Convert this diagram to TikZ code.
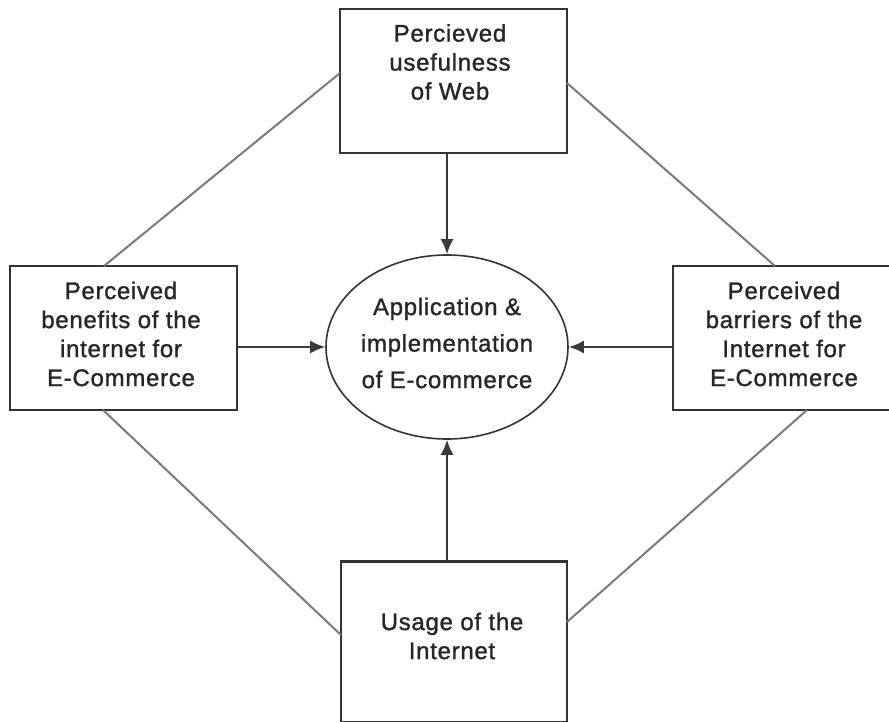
\documentclass[tikz,border=0pt]{standalone}
\usepackage{fontspec}
\setmainfont{Liberation Sans}[LetterSpace=3,FakeBold=1.2]
\usetikzlibrary{arrows.meta,shapes.geometric}
\definecolor{boxc}{HTML}{333333}
\definecolor{diag}{HTML}{7A7A7A}
\definecolor{arr}{HTML}{3A3A3A}
\tikzset{
  box/.style={draw=boxc, line width=2.2pt, rectangle, inner sep=0pt},
  txt/.style={align=center, inner sep=0pt, text=black!85, font=\fontsize{24}{29}\selectfont},
  etxt/.style={align=center, inner sep=0pt, text=black!85, font=\fontsize{24}{36.5}\selectfont},
  diagline/.style={draw=diag, line width=2pt},
  arrline/.style={draw=arr, line width=2pt, -{Latex[length=15pt,width=13pt]}},
}
\begin{document}
\begin{tikzpicture}[x=1pt,y=-1pt]
\useasboundingbox (0,0) rectangle (889,722);
\fill[white] (0,0) rectangle (889,722);
% boxes
\node[box, minimum width=227pt, minimum height=144pt] (top) at (453.5,81) {};
\node[box, minimum width=227pt, minimum height=144pt] (left) at (123.5,338) {};
\node[box, minimum width=227pt, minimum height=144pt] (right) at (786.5,338) {};
\node[box, minimum width=226pt, minimum height=161pt] (bot) at (454,642) {};
\node[draw=boxc, line width=1.6pt, ellipse, minimum width=242pt, minimum height=184pt, inner sep=0pt] (app) at (447,347) {};
% texts
\node[txt] (ttop) at (450,62) {Percieved\\usefulness\\of Web};
\node[txt] (tleft) at (121,334) {Perceived\\benefits of the\\internet for\\E-Commerce};
\node[txt] (tright) at (784,334) {Perceived\\barriers of the\\Internet for\\E-Commerce};
\node[txt] (tbot) at (452,636) {Usage of the\\Internet};
\node[etxt] (tapp) at (447,343) {Application \&\\implementation\\of E-commerce};
% coordinates for diagonal endpoints
\coordinate (tl) at (340,73);
\coordinate (tr) at (567,83);
\coordinate (lt) at (104,266);
\coordinate (lb) at (103,410);
\coordinate (rt) at (775,266);
\coordinate (rb) at (807,410);
\coordinate (bl) at (341,635);
\coordinate (br) at (567,622);
\draw[diagline] (tl) -- (lt);
\draw[diagline] (tr) -- (rt);
\draw[diagline] (lb) -- (bl);
\draw[diagline] (rb) -- (br);
% arrows
\draw[arrline] (top.south -| app.north) -- (app.north);
\draw[arrline] (bot.north -| app.south) -- (app.south);
\draw[arrline] (left.east |- app.west) -- (app.west);
\draw[arrline] (right.west |- app.east) -- (app.east);
\end{tikzpicture}
\end{document}
